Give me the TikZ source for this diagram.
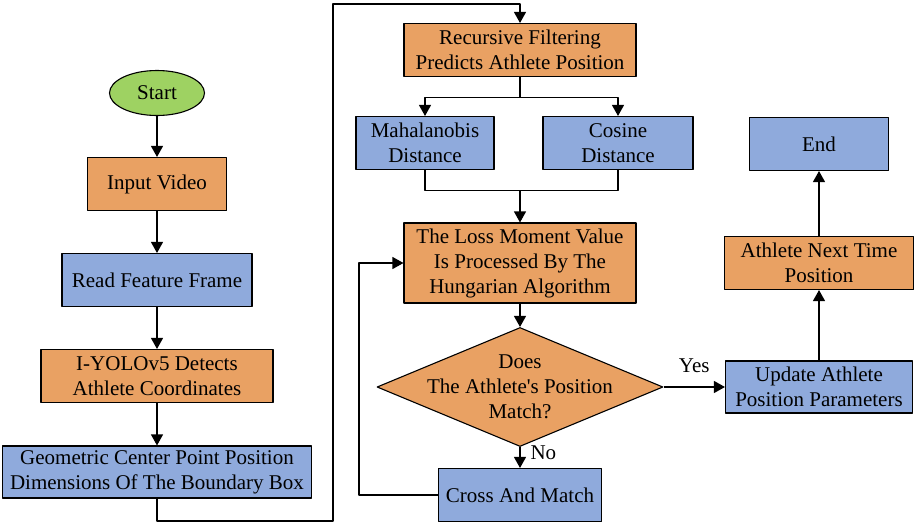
\documentclass[tikz,border=0pt]{standalone}
\usepackage{fontspec}
\setmainfont{Liberation Serif}
\usetikzlibrary{arrows.meta,shapes.geometric}
\definecolor{boxorange}{RGB}{233,161,99}
\definecolor{boxblue}{RGB}{143,170,220}
\definecolor{startgreen}{RGB}{158,210,98}
\begin{document}
\begin{tikzpicture}[x=1pt,y=-1pt,line join=round,>={Triangle[length=11pt,width=12pt]},line width=1.1pt]
	\tikzset{box/.style={draw,align=center,inner sep=2pt,minimum height=53pt,font=\fontsize{21}{25}\selectfont},
		orangebox/.style={box,fill=boxorange},
		bluebox/.style={box,fill=boxblue},
		lbl/.style={font=\fontsize{21}{25}\selectfont,inner sep=1pt}}
	\useasboundingbox (0,0) rectangle (914,523);
	% left column
	\node[draw,ellipse,fill=startgreen,minimum width=95pt,minimum height=45pt,inner sep=0pt,font=\fontsize{21}{25}\selectfont] (start) at (157,93) {Start};
	\node[orangebox,minimum width=139pt] (input) at (157,184) {Input Video};
	\node[bluebox,minimum width=190pt] (read) at (157,280) {Read Feature Frame};
	\node[orangebox,minimum width=232pt] (yolo) at (157,376) {I-YOLOv5 Detects\\Athlete Coordinates};
	\node[bluebox,minimum width=309pt,minimum height=52pt] (geo) at (157,472) {Geometric Center Point Position\\Dimensions Of The Boundary Box};
	% middle column
	\node[orangebox,minimum width=232pt] (rec) at (520,50) {Recursive Filtering\\Predicts Athlete Position};
	\node[bluebox,minimum width=138pt] (maha) at (425,143) {Mahalanobis\\Distance};
	\node[bluebox,minimum width=150pt] (cos) at (618,143) {Cosine\\Distance};
	\node[orangebox,minimum width=232pt,minimum height=80pt] (loss) at (520,263) {The Loss Moment Value\\Is Processed By The\\Hungarian Algorithm};
	\node[draw,diamond,fill=boxorange,minimum width=286pt,minimum height=119pt,inner sep=0pt] (dec) at (520,387) {};
	\node[lbl,align=center] (dectext) at (dec.center) {Does\\The Athlete\textquotesingle s Position\\Match?};
	\node[bluebox,minimum width=163pt] (cross) at (520,495) {Cross And Match};
	% right column
	\node[bluebox,minimum width=187pt,minimum height=52pt] (update) at (819,387) {Update Athlete\\Position Parameters};
	\node[orangebox,minimum width=189pt] (next) at (819,263) {Athlete Next Time\\Position};
	\node[bluebox,minimum width=139pt] (end) at (819,144) {End};
	% connectors
	\draw[->] (start) -- (input);
	\draw[->] (input) -- (read);
	\draw[->] (read) -- (yolo);
	\draw[->] (yolo) -- (geo);
	\coordinate (turnlow) at (333,521);
	\coordinate (turnhigh) at (333,4);
	\draw[->] (geo.south) |- (turnlow) -- (turnhigh) -| (rec.north);
	\draw[->] (rec.south) -- ++(0,20) -| (maha.north);
	\draw[->] (rec.south) -- ++(0,20) -| (cos.north);
	\draw (maha.south) -- ++(0,20) coordinate (merge) -| (cos.south);
	\draw[->] (merge -| loss.north) -- (loss.north);
	\draw[->] (loss) -- (dec);
	\draw[->] (dec.south) -- node[lbl,right=9pt,pos=0.25] (no) {No} (cross.north);
	\draw[->] (dec.east) -- node[lbl,above=13pt] (yes) {Yes} (update.west);
	\draw[->] (cross.west) -- ++(-79,0) |- (loss.west);
	\draw[->] (update) -- (next);
	\draw[->] (next) -- (end);
\end{tikzpicture}
\end{document}
